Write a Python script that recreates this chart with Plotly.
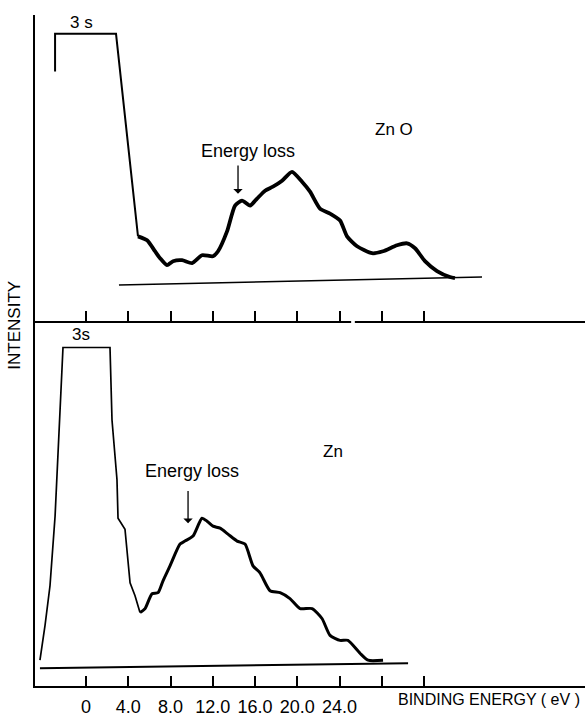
import plotly.graph_objects as go

# ---------------- data (binding energy in eV, intensity in arbitrary units) ----------------
# ZnO (top panel)
zno_peak_e = [-2.93, -2.93, 2.84, 4.92]
zno_peak_i = [251, 289, 289, 85]
zno_loss_e = [4.92, 5.78, 6.53, 7.01, 7.67, 8.24, 9.09, 10.04, 10.98, 12.02, 12.50, 13.35,
              14.11, 14.77, 15.53, 16.19, 16.95, 17.70, 18.56, 19.50, 20.45, 21.21, 22.15,
              23.10, 24.05, 24.71, 25.66, 27.08, 28.12, 29.44, 30.39, 31.15, 32.09, 33.23,
              34.46, 34.93]
zno_loss_i = [85, 81, 70, 63, 56, 60, 61, 58, 66, 65, 70, 90,
              116, 121, 116, 123, 131, 135, 141, 150, 140, 130, 113,
              108, 101, 85, 75, 68, 70, 76, 78, 73, 60, 50,
              44, 43]
zno_base_e = [3.12, 37.49]
zno_base_i = [36, 44]

# Zn (bottom panel)
zn_peak_e = [-4.36, -3.88, -3.41, -2.93, -2.18, 2.27, 2.46, 2.93, 3.03, 3.69, 4.17, 4.64, 5.11]
zn_peak_i = [26, 61, 101, 171, 341, 341, 268, 208, 169, 158, 104, 91, 74]
zn_loss_e = [5.11, 5.59, 6.25, 6.82, 7.29, 7.95, 8.90, 9.37, 10.13, 10.98, 11.46, 12.02, 12.69,
             13.44, 14.30, 15.05, 15.81, 16.47, 17.42, 18.37, 19.31, 20.26, 21.40, 22.34,
             23.10, 24.05, 24.80, 25.94, 26.70, 28.12]
zn_loss_i = [74, 78, 93, 94, 106, 121, 143, 146, 151, 169, 166, 161, 159,
             153, 146, 143, 121, 114, 96, 94, 88, 78, 78, 68,
             51, 46, 46, 33, 26, 26]
zn_base_e = [-4.36, 30.49]
zn_base_i = [18, 23]

tick_vals = [0, 4, 8, 12, 16, 20, 24, 28, 32]
tick_text = ["0", "4.0", "8.0", "12.0", "16.0", "20.0", "24.0", "", ""]

X_RANGE = [-4.83, 47.24]
FONT = "Liberation Sans, Arial, sans-serif"

fig = go.Figure()

def line(x, y, w, xa, ya, shape="linear"):
    fig.add_trace(go.Scatter(x=x, y=y, mode="lines", xaxis=xa, yaxis=ya,
                             line=dict(color="black", width=w, shape=shape,
                                       smoothing=0.6 if shape == "spline" else None),
                             showlegend=False, hoverinfo="skip"))

# top panel (ZnO)
line(zno_base_e, zno_base_i, 1.5, "x2", "y2")
line(zno_peak_e, zno_peak_i, 2, "x2", "y2")
line(zno_loss_e, zno_loss_i, 3.8, "x2", "y2", "spline")
# bottom panel (Zn)
line(zn_base_e, zn_base_i, 2, "x", "y")
line(zn_peak_e, zn_peak_i, 1.7, "x", "y")
line(zn_loss_e, zn_loss_i, 3, "x", "y", "spline")

axis_common = dict(range=X_RANGE, showline=True, linecolor="black", linewidth=2,
                   ticks="inside", ticklen=10, tickwidth=1.5, tickcolor="black",
                   tickvals=tick_vals, showgrid=False, zeroline=False, mirror=False)

split = 368 / 676
fig.update_layout(
    width=585, height=717,
    margin=dict(l=35, r=0, t=15, b=26),
    paper_bgcolor="white", plot_bgcolor="white",
    font=dict(family=FONT, color="black", size=17),
    xaxis=dict(**axis_common, anchor="y", ticktext=tick_text, showticklabels=True,
               tickfont=dict(family=FONT, size=18, color="black"), ticklabelstandoff=3),
    xaxis2=dict(**axis_common, anchor="y2", showticklabels=False, matches="x"),
    yaxis=dict(domain=[0, split], range=[0, 368], showline=True, linecolor="black",
               linewidth=2, showticklabels=False, ticks="", showgrid=False,
               zeroline=False),
    yaxis2=dict(domain=[split, 1], range=[0, 308], showline=True, linecolor="black",
                linewidth=2, showticklabels=False, ticks="", showgrid=False,
                zeroline=False),
    showlegend=False,
)

def text(x, y, s, xr, yr, size=17):
    fig.add_annotation(x=x, y=y, xref=xr, yref=yr, text=s, showarrow=False,
                       font=dict(family=FONT, size=size, color="black"))

def arrow(x, y0, y1, xr, yr):
    fig.add_annotation(x=x, y=y1, ax=x, ay=y0, xref=xr, yref=yr, axref=xr, ayref=yr,
                       text="", showarrow=True, arrowhead=1, arrowsize=1.2,
                       arrowwidth=1.3, arrowcolor="black")

# top labels
text(-0.47, 300, "3 s", "x2", "y2")
text(15.3, 171, "Energy loss", "x2", "y2", 18)
arrow(14.39, 158, 128, "x2", "y2")
text(29.16, 193, "Zn O", "x2", "y2")
# bottom labels
text(-0.47, 354, "3s", "x", "y")
text(10.04, 217, "Energy loss", "x", "y", 18)
arrow(9.66, 198, 164, "x", "y")
text(23.38, 236, "Zn", "x", "y")

# small gap in the top axis line
fig.add_shape(type="rect", xref="x2", yref="paper", x0=25.1, x1=25.45,
              y0=split - 0.004, y1=split + 0.004, fillcolor="white",
              line=dict(width=0), layer="above")

# axis titles (positions given in pixels, converted to paper coordinates)
for label, px, py, ang, size in [("INTENSITY", 15, 328, -90, 17),
                                 ("BINDING ENERGY ( eV )", 489, 705, 0, 16)]:
    fig.add_annotation(x=(px - 35) / (585 - 35), y=(691 - py) / 676,
                       xref="paper", yref="paper", text=label, textangle=ang,
                       showarrow=False, xanchor="center", yanchor="middle",
                       font=dict(family=FONT, size=size, color="black"))

fig.write_html("out.html")
